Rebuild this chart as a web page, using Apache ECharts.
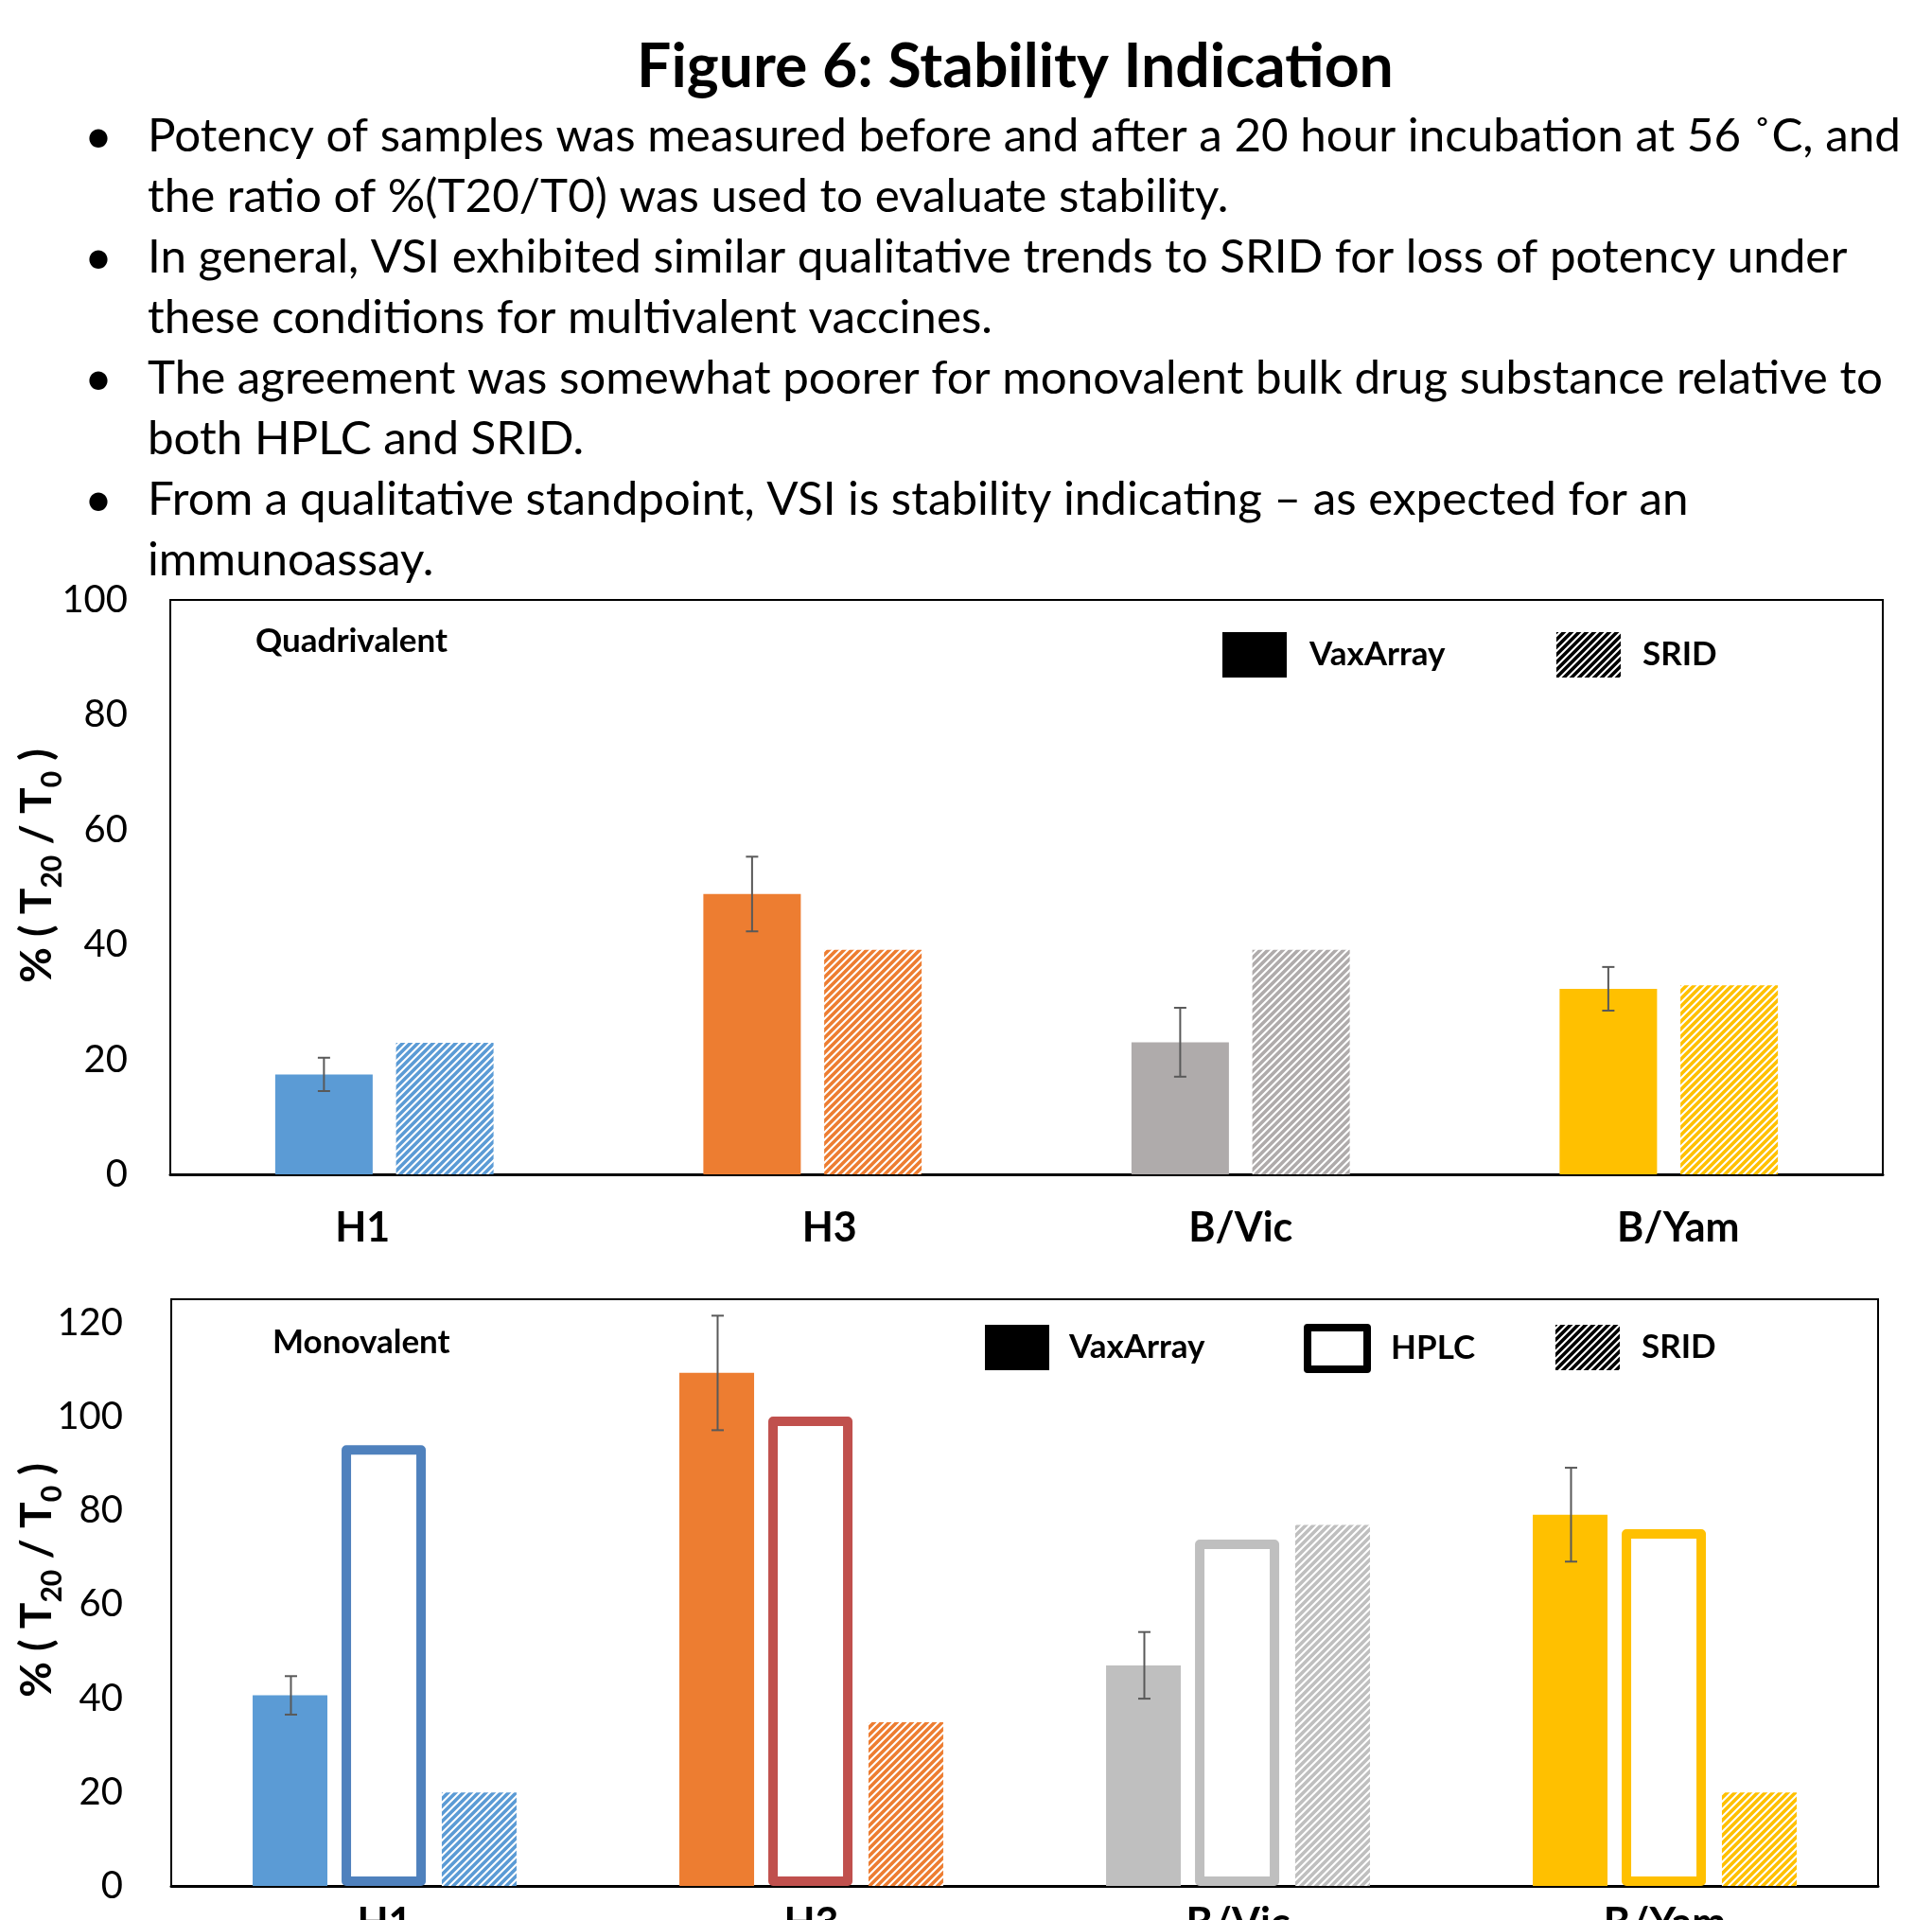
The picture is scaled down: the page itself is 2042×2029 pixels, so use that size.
<!DOCTYPE html>
<html>
<head>
<meta charset="utf-8">
<script src="https://cdn.jsdelivr.net/npm/echarts@6/dist/echarts.min.js"></script>
<style>
html,body{margin:0;padding:0;background:#fff;overflow:hidden;}
#chart{width:2042px;height:2029px;}
</style>
</head>
<body>
<div id="chart"></div>
<script>
// ---------------- data ----------------
const categories = ['H1', 'H3', 'B/Vic', 'B/Yam'];

// Quadrivalent panel
const quadVaxArray = [17.4, 48.8, 23.0, 32.3];
const quadVaxArrayErr = [2.9, 6.5, 6.0, 3.8];
const quadSRID = [22.9, 39.1, 39.1, 32.9];

// Monovalent panel
const monoVaxArray = [40.6, 109.3, 47.0, 79.1];
const monoVaxArrayErr = [4.1, 12.2, 7.1, 10.0];
const monoHPLC = [93.9, 100.0, 73.8, 76.0];
const monoSRID = [19.9, 34.9, 76.9, 19.9];

// axis ranges
const quadAxis = [0, 100, 20];   // min, max, interval
const monoAxis = [0, 125, 20];

const seriesNames = ['VaxArray', 'HPLC', 'SRID'];
const panelLabels = ['Quadrivalent', 'Monovalent'];
const titleText = 'Figure 6: Stability Indication';
const bulletLines = [
  ['Potency of samples was measured before and after a 20 hour incubation at 56 \u02DAC, and', true],
  ['the ratio of %(T20/T0) was used to evaluate stability.', false],
  ['In general, VSI exhibited similar qualitative trends to SRID for loss of potency under', true],
  ['these conditions for multivalent vaccines.', false],
  ['The agreement was somewhat poorer for monovalent bulk drug substance relative to', true],
  ['both HPLC and SRID.', false],
  ['From a qualitative standpoint, VSI is stability indicating \u2013 as expected for an', true],
  ['immunoassay.', false]
];

// ---------------- styles ----------------
const quadVaxColors = ['#5B9BD5', '#ED7D31', '#AFABAB', '#FFC000'];
const quadSridColors = ['#5B9BD5', '#ED7D31', '#AFABAB', '#FFC000'];
const monoVaxColors = ['#5B9BD5', '#ED7D31', '#BFBFBF', '#FFC000'];
const monoHplcColors = ['#4F81BD', '#C0504D', '#BFBFBF', '#FFC000'];
const monoSridColors = ['#5B9BD5', '#ED7D31', '#BFBFBF', '#FFC000'];
const FONT = 'Lato';

function hatch(color, p, lw) {
  const c = document.createElement('canvas');
  c.width = p; c.height = p;
  const g = c.getContext('2d');
  g.fillStyle = '#ffffff';
  g.fillRect(0, 0, p, p);
  g.strokeStyle = color;
  g.lineWidth = lw;
  g.beginPath();
  [0, p, 2 * p].forEach(function (k) {
    g.moveTo(k + p, -p);
    g.lineTo(k - 2 * p, 2 * p);
  });
  g.stroke();
  return { image: c, repeat: 'repeat' };
}

const measureCtx = document.createElement('canvas').getContext('2d');
function fitSize(text, weight, target) {
  measureCtx.font = weight + ' 100px ' + FONT;
  return 100 * target / measureCtx.measureText(text).width;
}

const topBarW = 103, topGapPct = 24;
const botBarW = 79, hplcBarW = 89, botGapPct = 19;
const HP = 8, HLW = 3.6;

function errSeries(name, xi, yi, vals, errs, offset) {
  return {
    type: 'custom',
    name: name,
    xAxisIndex: xi, yAxisIndex: yi,
    z: 10,
    encode: { x: 0, y: [1, 2] },
    data: vals.map(function (v, i) { return [i, v - errs[i], v + errs[i]]; }),
    renderItem: function (params, api) {
      const lo = api.coord([api.value(0), api.value(1)]);
      const hi = api.coord([api.value(0), api.value(2)]);
      const x = lo[0] + offset;
      const st = { stroke: '#595959', lineWidth: 2 };
      return {
        type: 'group',
        children: [
          { type: 'line', shape: { x1: x, y1: lo[1], x2: x, y2: hi[1] }, style: st },
          { type: 'line', shape: { x1: x - 6.5, y1: hi[1], x2: x + 6.5, y2: hi[1] }, style: st },
          { type: 'line', shape: { x1: x - 6.5, y1: lo[1], x2: x + 6.5, y2: lo[1] }, style: st }
        ]
      };
    }
  };
}

const legendText = function (pad) {
  return { fontFamily: FONT, fontWeight: 'bold', fontSize: 35, color: '#000', padding: [8, 0, 0, pad] };
};
const blackHatch = hatch('#000000', HP, HLW);

const bulletSize = fitSize(bulletLines[0][0], 'normal', 1852);
const titleSize = fitSize(titleText, 'bold', 800);

const graphics = [];
graphics.push({
  type: 'text', x: 1073, y: 71, silent: true,
  style: { text: titleText, font: 'bold ' + titleSize.toFixed(1) + 'px ' + FONT, fill: '#000', align: 'center', verticalAlign: 'middle' }
});
bulletLines.forEach(function (ln, i) {
  const y = 144 + 64 * i;
  graphics.push({
    type: 'text', x: 156, y: y, silent: true,
    style: { text: ln[0], font: bulletSize.toFixed(1) + 'px ' + FONT, fill: '#000', align: 'left', verticalAlign: 'middle' }
  });
  if (ln[1]) {
    graphics.push({
      type: 'text', x: 104, y: y + 1, silent: true,
      style: { text: '\u2022', font: (bulletSize * 1.05).toFixed(1) + 'px ' + FONT, fill: '#000', align: 'center', verticalAlign: 'middle' }
    });
  }
});
const yNameRich = {
  a: { font: 'bold 46px ' + FONT, fill: '#000', lineHeight: 62 },
  s: { font: 'bold 30px ' + FONT, fill: '#000', verticalAlign: 'bottom' }
};
[915, 1670].forEach(function (cy) {
  graphics.push({
    type: 'text', x: 39, y: cy, rotation: Math.PI / 2, silent: true,
    style: { text: '{a|% ( T}{s|20}{a| / T}{s|0}{a| )}', rich: yNameRich, align: 'center', verticalAlign: 'middle' }
  });
});
graphics.push({
  type: 'text', x: 270, y: 678, silent: true,
  style: { text: panelLabels[0], font: 'bold 35px ' + FONT, fill: '#000', align: 'left', verticalAlign: 'middle' }
});
graphics.push({
  type: 'text', x: 288, y: 1419, silent: true,
  style: { text: panelLabels[1], font: 'bold 35px ' + FONT, fill: '#000', align: 'left', verticalAlign: 'middle' }
});

const catLabelBase = { fontFamily: FONT, fontWeight: 'bold', fontSize: 43, color: '#000' };
const topShift = [
  { padding: [0, 46, 0, 0] },
  { padding: [0, 0, 0, 36] },
  { padding: [0, 0, 0, 0] },
  { padding: [0, 0, 0, 20] }
];
const topRich = {};
topShift.forEach(function (s, i) { topRich['c' + i] = Object.assign({}, catLabelBase, s); });

const yAxisCommon = function (r, margin) {
  return {
    type: 'value', min: r[0], max: r[1], interval: r[2],
    axisLine: { show: false }, axisTick: { show: false }, splitLine: { show: false },
    axisLabel: { fontFamily: FONT, fontSize: 40, color: '#000', margin: margin, showMaxLabel: r[1] % r[2] === 0 }
  };
};

const option = {
  animation: false,
  backgroundColor: '#ffffff',
  textStyle: { fontFamily: FONT },
  graphic: graphics,
  grid: [
    { left: 180, top: 634, right: 52, bottom: 788, show: true, borderColor: '#000', borderWidth: 2, backgroundColor: '#fff', containLabel: false, outerBoundsMode: 'none' },
    { left: 181, top: 1373, right: 57, bottom: 36, show: true, borderColor: '#000', borderWidth: 2, backgroundColor: '#fff', containLabel: false, outerBoundsMode: 'none' }
  ],
  xAxis: [
    {
      gridIndex: 0, type: 'category', data: categories,
      axisLine: { lineStyle: { color: '#000', width: 3 } }, axisTick: { show: false },
      axisLabel: {
        margin: 36, fontFamily: FONT, fontWeight: 'bold', fontSize: 43, color: '#000',
        formatter: function (v, i) { return '{c' + i + '|' + v + '}'; }, rich: topRich
      }
    },
    {
      gridIndex: 1, type: 'category', data: categories,
      axisLine: { lineStyle: { color: '#000', width: 3 } }, axisTick: { show: false },
      axisLabel: Object.assign({ margin: 19 }, catLabelBase)
    }
  ],
  yAxis: [
    Object.assign({ gridIndex: 0 }, yAxisCommon(quadAxis, 45)),
    Object.assign({ gridIndex: 1 }, yAxisCommon(monoAxis, 51))
  ],
  legend: [
    { data: [seriesNames[0]], left: 1292, top: 668, padding: 0, icon: 'rect', itemWidth: 68, itemHeight: 48, selectedMode: false,
      itemStyle: { color: '#000', borderWidth: 0 }, textStyle: legendText(19) },
    { data: [seriesNames[2]], left: 1645, top: 668, padding: 0, icon: 'rect', itemWidth: 68, itemHeight: 48, selectedMode: false,
      itemStyle: { color: blackHatch, borderWidth: 0 }, textStyle: legendText(18) },
    { data: [seriesNames[0]], left: 1041, top: 1400, padding: 0, icon: 'rect', itemWidth: 68, itemHeight: 48, selectedMode: false,
      itemStyle: { color: '#000', borderWidth: 0 }, textStyle: legendText(16) },
    { data: [seriesNames[1]], left: 1378, top: 1399, padding: 0, icon: 'rect', itemWidth: 63, itemHeight: 44, selectedMode: false,
      itemStyle: { color: '#fff', borderColor: '#000', borderWidth: 8 }, textStyle: legendText(20) },
    { data: [seriesNames[2]], left: 1644, top: 1400, padding: 0, icon: 'rect', itemWidth: 68, itemHeight: 48, selectedMode: false,
      itemStyle: { color: blackHatch, borderWidth: 0 }, textStyle: legendText(18) }
  ],
  series: [
    {
      type: 'bar', name: seriesNames[0], xAxisIndex: 0, yAxisIndex: 0,
      barWidth: topBarW, barGap: topGapPct + '%',
      itemStyle: { color: '#000' },
      data: quadVaxArray.map(function (v, i) { return { value: v, itemStyle: { color: quadVaxColors[i] } }; })
    },
    {
      type: 'bar', name: seriesNames[2], xAxisIndex: 0, yAxisIndex: 0,
      barWidth: topBarW, barGap: topGapPct + '%',
      itemStyle: { color: blackHatch },
      data: quadSRID.map(function (v, i) { return { value: v, itemStyle: { color: hatch(quadSridColors[i], HP, HLW) } }; })
    },
    errSeries('errQ', 0, 0, quadVaxArray, quadVaxArrayErr, -(topBarW + topBarW * topGapPct / 100) / 2),
    {
      type: 'bar', name: seriesNames[0], xAxisIndex: 1, yAxisIndex: 1,
      barWidth: botBarW, barGap: botGapPct + '%',
      itemStyle: { color: '#000' },
      data: monoVaxArray.map(function (v, i) { return { value: v, itemStyle: { color: monoVaxColors[i] } }; })
    },
    {
      type: 'bar', name: seriesNames[1], xAxisIndex: 1, yAxisIndex: 1,
      barWidth: hplcBarW, barGap: botGapPct + '%',
      itemStyle: { color: '#fff', borderColor: '#000', borderWidth: 10, borderJoin: 'round' },
      data: monoHPLC.map(function (v, i) { return { value: v, itemStyle: { color: '#fff', borderColor: monoHplcColors[i], borderWidth: 10, borderJoin: 'round' } }; })
    },
    {
      type: 'bar', name: seriesNames[2], xAxisIndex: 1, yAxisIndex: 1,
      barWidth: botBarW, barGap: botGapPct + '%',
      itemStyle: { color: blackHatch },
      data: monoSRID.map(function (v, i) { return { value: v, itemStyle: { color: hatch(monoSridColors[i], HP, HLW) } }; })
    },
    errSeries('errM', 1, 1, monoVaxArray, monoVaxArrayErr,
      -(botBarW / 2 + botBarW * botGapPct / 100 + hplcBarW / 2))
  ]
};

const chart = echarts.init(document.getElementById('chart'), null, { renderer: 'canvas' });
chart.setOption(option);
</script>
</body>
</html>
